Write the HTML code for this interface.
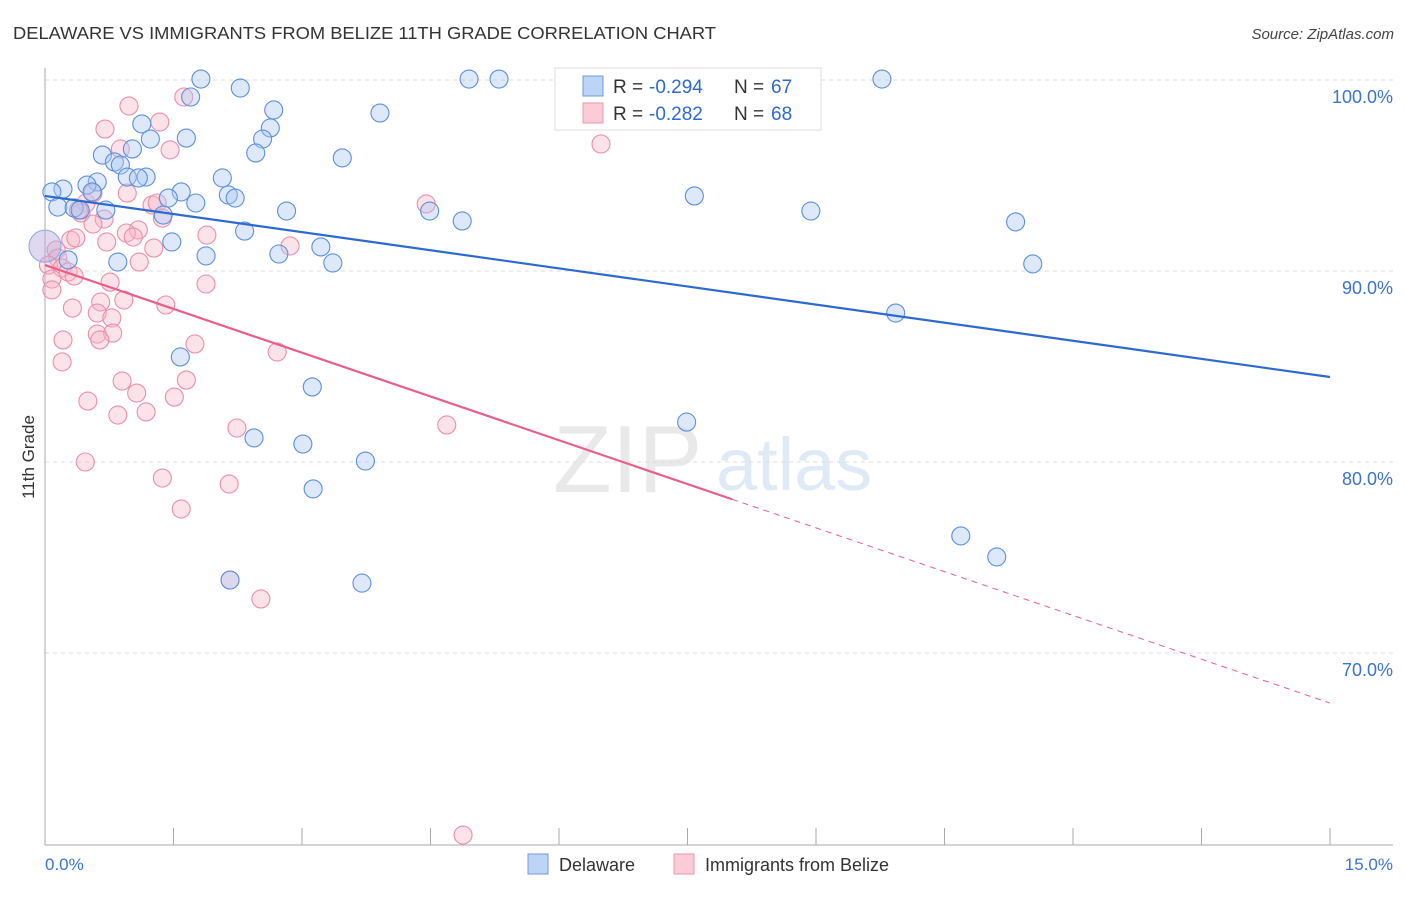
<!DOCTYPE html>
<html><head><meta charset="utf-8"><style>
body{margin:0;background:#fff;font-family:"Liberation Sans",sans-serif}
svg text{font-family:"Liberation Sans",sans-serif}
</style></head><body>
<svg id="chart" width="1406" height="892" xmlns="http://www.w3.org/2000/svg">
<text x="13" y="39" font-size="17.5" fill="#333" textLength="703" lengthAdjust="spacingAndGlyphs">DELAWARE VS IMMIGRANTS FROM BELIZE 11TH GRADE CORRELATION CHART</text>
<text x="1394" y="39" font-size="15" fill="#444" text-anchor="end" font-style="italic">Source: ZipAtlas.com</text>
<g opacity="0.18"><text x="553" y="492" font-size="96" fill="#888" font-family="Liberation Serif">ZIP</text><text x="716" y="490" font-size="74" fill="#5b8fd6">atlas</text></g>
<g id="grid"></g><g id="axes"></g><g id="pts"></g><g id="trends"></g>
<text transform="translate(34,457) rotate(-90)" font-size="17" fill="#333" text-anchor="middle">11th Grade</text>
<text x="45" y="870" font-size="17" fill="#3b73d0">0.0%</text>
<text x="1393" y="870" font-size="17" fill="#3b73d0" text-anchor="end">15.0%</text>
<g>
<rect x="555" y="68" width="266" height="62" fill="#fff" stroke="#ddd"/>
<rect x="583" y="76" width="20" height="20" fill="#bcd4f5" stroke="#6d9be0"/>
<rect x="583" y="103" width="20" height="20" fill="#fbcbd8" stroke="#ee97b1"/>
<text x="613" y="93" font-size="19" fill="#333">R =</text><text x="649" y="93" font-size="19" fill="#2d6ad0">-0.294</text>
<text x="734" y="93" font-size="19" fill="#333">N =</text><text x="771" y="93" font-size="19" fill="#2d6ad0">67</text>
<text x="613" y="120" font-size="19" fill="#333">R =</text><text x="649" y="120" font-size="19" fill="#2d6ad0">-0.282</text>
<text x="734" y="120" font-size="19" fill="#333">N =</text><text x="771" y="120" font-size="19" fill="#2d6ad0">68</text>
</g>
<g>
<rect x="528" y="854" width="20" height="20" fill="#bcd4f5" stroke="#6d9be0"/>
<text x="559" y="871" font-size="18" fill="#333">Delaware</text>
<rect x="674" y="854" width="20" height="20" fill="#fbcbd8" stroke="#ee97b1"/>
<text x="705" y="871" font-size="18" fill="#333">Immigrants from Belize</text>
</g>
</svg>
<script>
const yTicks=[100,90,80,70];
const yTickLabels=["100.0%","90.0%","80.0%","70.0%"];
const xTicks=[0,1.5,3,4.5,6,7.5,9,10.5,12,13.5,15];
const delawarePx=[[201,79],[240,88],[191,97],[274,110],[142,124],[270,128],[186,138],[150,139],[263,139],[102,155],[132,149],[256,153],[342,158],[114,162],[120,165],[127,177],[146,177],[138,178],[222,178],[97,182],[87,185],[63,189],[52,192],[181,192],[92,192],[228,195],[235,198],[168,198],[196,203],[58,207],[74,208],[80,210],[106,210],[163,215],[287,211],[430,211],[462,221],[245,231],[172,242],[321,247],[279,254],[206,256],[118,262],[68,260],[333,263],[180,357],[312,387],[254,438],[303,444],[365,461],[313,489],[230,580],[362,583],[380,113],[469,79],[499,79],[882,79],[694,196],[811,211],[1016,222],[1033,264],[896,313],[687,422],[961,536],[997,557]];
const belizePx=[[184,97],[129,106],[160,122],[105,129],[170,150],[120,149],[127,193],[152,205],[157,203],[86,203],[93,193],[81,213],[78,210],[104,219],[93,224],[162,218],[138,230],[126,233],[133,237],[207,235],[107,242],[154,248],[71,240],[76,238],[290,246],[56,250],[58,258],[48,265],[62,268],[68,272],[74,276],[52,279],[52,290],[139,262],[206,284],[110,282],[101,302],[124,300],[166,305],[72,308],[97,313],[112,318],[97,334],[113,333],[100,340],[195,344],[277,352],[63,340],[62,362],[122,381],[186,380],[137,393],[88,401],[174,397],[118,415],[146,412],[237,428],[447,425],[85,462],[162,478],[229,484],[181,509],[230,580],[261,599],[426,204],[601,144],[463,835]];
const delawareX=delawarePx.map(p=>+((p[0]-45)*15/1285).toFixed(2));
const delawareY=delawarePx.map(p=>+(100-(p[1]-80)/19.1).toFixed(2));
const belizeX=belizePx.map(p=>+((p[0]-45)*15/1285).toFixed(2));
const belizeY=belizePx.map(p=>+(100-(p[1]-80)/19.1).toFixed(2));
const blueTrend=[93.93,84.45];
const pinkTrend=[90.31,67.38];
const pinkSolidEnd=8.02;
const sx=v=>45+v*1285/15, sy=v=>80+(100-v)*19.1;
const NS="http://www.w3.org/2000/svg";
function mk(tag,attrs,parent){const e=document.createElementNS(NS,tag);for(const k in attrs)e.setAttribute(k,attrs[k]);document.getElementById(parent).appendChild(e);return e;}
yTicks.forEach((t,i)=>{
 const g=mk('line',{x1:45,x2:1393,y1:sy(t),y2:sy(t),stroke:'#ddd','stroke-dasharray':'4,4'},'grid');
 
 
 const l=mk('text',{x:1393,y:sy(t)+23,'font-size':18,fill:'#3b73d0','text-anchor':'end'},'grid');
 l.textContent=yTickLabels[i];
 
 
});
const ya=mk('line',{x1:45,x2:45,y1:68,y2:845,stroke:'#aaa'},'axes');


const xa=mk('line',{x1:45,x2:1393,y1:845,y2:845,stroke:'#aaa'},'axes');


xTicks.forEach(t=>{const k=mk('line',{x1:sx(t),x2:sx(t),y1:828,y2:845,stroke:'#aaa'},'axes');
 
 });
function pts(X,Y,fill,stroke,name){X.forEach((x,i)=>{const c=mk('circle',{cx:sx(x),cy:sy(Y[i]),r:9,fill:fill,'fill-opacity':0.4,stroke:stroke,'stroke-width':1.1},'pts');
 
 });}
pts(belizeX,belizeY,'#f8b6c9','#ec8eab','belize-point');
pts(delawareX,delawareY,'#a9c8f2','#5b8fe0','delaware-point');
const big=mk('circle',{cx:sx(0),cy:sy(91.3),r:16,fill:'#b9a9d9','fill-opacity':0.45,stroke:'#8aa8e0'},'pts');


const b=mk('line',{x1:sx(0),y1:sy(blueTrend[0]),x2:sx(15),y2:sy(blueTrend[1]),stroke:'#2d6ad0','stroke-width':2.2},'trends');


const pe=pinkTrend[0]+(pinkTrend[1]-pinkTrend[0])*pinkSolidEnd/15;
const p=mk('line',{x1:sx(0),y1:sy(pinkTrend[0]),x2:sx(pinkSolidEnd),y2:sy(pe),stroke:'#e8608a','stroke-width':2.2},'trends');


const pd=mk('line',{x1:sx(pinkSolidEnd),y1:sy(pe),x2:sx(15),y2:sy(pinkTrend[1]),stroke:'#e8608a','stroke-width':1,'stroke-dasharray':'6,5'},'trends');


</script>
</body></html>
